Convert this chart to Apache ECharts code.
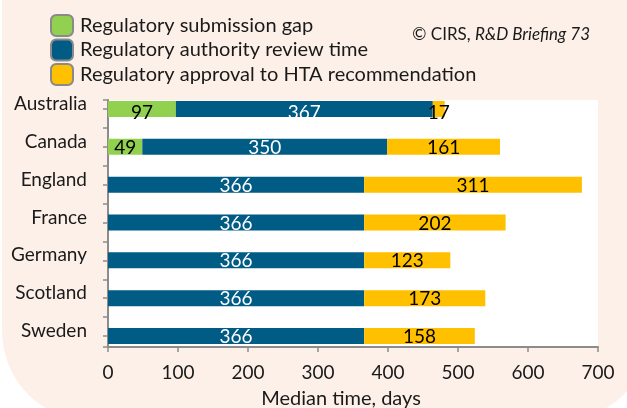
<!DOCTYPE html>
<html>
<head>
	<meta charset="UTF-8">
	<title></title>
	<script src="https://cdn.jsdelivr.net/npm/echarts@6/dist/echarts.min.js"></script>
	<style type="text/css">
		html,body{margin:0; padding:0; background:#fff;}
		#chart1{width:627px; height:408px;}
	</style>
</head>
<body>
	<div id="chart1"></div>
	<script type="text/javascript">
		// chart data
		const countries = ['Australia', 'Canada', 'England', 'France', 'Germany', 'Scotland', 'Sweden'];
		const seriesNames = ['Regulatory submission gap', 'Regulatory authority review time', 'Regulatory approval to HTA recommendation'];
		const submissionGap = [97, 49, null, null, null, null, null];
		const reviewTime = [367, 350, 366, 366, 366, 366, 366];
		const approvalToHta = [17, 161, 311, 202, 123, 173, 158];
		const xMin = 0, xMax = 700, xStep = 100;

		const font = 'Lato';
		const txt = '#1a1a1a';
		const axisGrey = '#8c8c8c';

		// first row labels sit a bit lower in the original
		function withLabelShift(arr){
			return arr.map(function(v, i){
				return i === 0 ? {value: v, label: {offset: [0, 4]}} : {value: v, label: {offset: [0, 1]}};
			});
		}

		let myChart = echarts.init(document.getElementById('chart1'));
		let option = {
			backgroundColor: 'transparent',
			textStyle: {fontFamily: font},
			graphic: [{
				type: 'rect',
				z: -10,
				shape: {x: 2, y: -100, width: 648, height: 521, r: 90},
				style: {fill: '#fdf0e8'}
			}],
			title: {
				text: '{a|© CIRS, }{b|R&D Briefing 73}',
				right: 32,
				top: 21,
				textStyle: {
					fontWeight: 'normal',
					rich: {
						a: {fontFamily: font, fontSize: 17, color: txt, fontWeight: 'normal'},
						b: {fontFamily: font, fontSize: 17, color: txt, fontWeight: 'normal', fontStyle: 'italic'}
					}
				}
			},
			legend: {
				orient: 'vertical',
				left: 45,
				top: 9,
				itemWidth: 22,
				itemHeight: 21,
				itemGap: 1.5,
				icon: 'roundRect',
				itemStyle: {borderColor: '#8a8a8a', borderWidth: 2},
				textStyle: {fontFamily: font, fontSize: 20, color: txt, lineHeight: 21, padding: [0, 0, 0, 2]},
				data: seriesNames
			},
			grid: [
				// bars
				{left: 108, right: 29, top: 90, bottom: 53, outerBoundsMode: 'none'},
				// white plot area with the visible x axis
				{left: 108, right: 29, top: 100, bottom: 61, show: true, backgroundColor: '#fff', borderWidth: 0, outerBoundsMode: 'none'},
				// boundary ticks between categories
				{left: 108, right: 29, top: 127.9, bottom: 90.9, outerBoundsMode: 'none'}
			],
			xAxis: [
				{gridIndex: 0, type: 'value', min: xMin, max: xMax, show: false},
				{
					gridIndex: 1, type: 'value', min: xMin, max: xMax, interval: xStep,
					axisLine: {show: true, lineStyle: {color: axisGrey, width: 2}},
					axisTick: {show: true, length: 5, lineStyle: {color: axisGrey, width: 1.5}},
					splitLine: {show: false},
					axisLabel: {fontFamily: font, fontSize: 19, color: txt, margin: 16},
					name: 'Median time, days',
					nameLocation: 'middle',
					nameGap: 42,
					nameTextStyle: {fontFamily: font, fontSize: 20, color: txt, padding: [0, 24, 0, 0]}
				},
				{gridIndex: 2, type: 'value', min: 0, max: 1, show: false}
			],
			yAxis: [
				{
					gridIndex: 0, type: 'category', data: countries, inverse: true,
					axisLine: {show: false},
					axisTick: {show: true, alignWithLabel: true, length: 5, lineStyle: {color: axisGrey, width: 1.5}},
					axisLabel: {fontFamily: font, fontSize: 19, color: txt, margin: 21, verticalAlign: 'bottom', lineHeight: 10}
				},
				{
					gridIndex: 1, type: 'value', min: 0, max: 1, interval: 1,
					axisLine: {show: true, lineStyle: {color: axisGrey, width: 2}},
					axisTick: {show: true, length: 5, lineStyle: {color: axisGrey, width: 1.5}},
					axisLabel: {show: false},
					splitLine: {show: false}
				},
				{
					gridIndex: 2, type: 'category', data: ['', '', '', '', ''],
					axisLine: {show: false},
					axisTick: {show: true, length: 5, lineStyle: {color: axisGrey, width: 1.5}},
					axisLabel: {show: false}
				}
			],
			series: [
				{
					name: seriesNames[0], type: 'bar', stack: 'total', barWidth: 16,
					xAxisIndex: 0, yAxisIndex: 0,
					itemStyle: {color: '#92d050'},
					label: {show: true, position: 'inside', fontFamily: font, fontSize: 19, color: '#000'},
					data: withLabelShift(submissionGap)
				},
				{
					name: seriesNames[1], type: 'bar', stack: 'total', barWidth: 16,
					xAxisIndex: 0, yAxisIndex: 0,
					itemStyle: {color: '#005b85'},
					label: {show: true, position: 'inside', fontFamily: font, fontSize: 19, color: '#fff'},
					data: withLabelShift(reviewTime)
				},
				{
					name: seriesNames[2], type: 'bar', stack: 'total', barWidth: 16,
					xAxisIndex: 0, yAxisIndex: 0,
					itemStyle: {color: '#ffc000'},
					label: {show: true, position: 'inside', fontFamily: font, fontSize: 19, color: '#000'},
					data: withLabelShift(approvalToHta)
				}
			]
		};
		myChart.setOption(option);
	</script>
</body>
</html>
